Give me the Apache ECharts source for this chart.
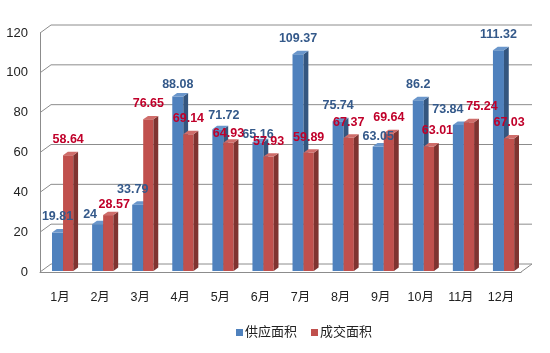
<!DOCTYPE html>
<html>
<head>
<meta charset="utf-8">
<script src="https://cdn.jsdelivr.net/npm/echarts@6/dist/echarts.min.js"></script>
<style>
  html, body { margin: 0; padding: 0; background: #fff; }
  #chart { width: 550px; height: 353px; }
</style>
</head>
<body>
<div id="chart"></div>
<script>
// values
const months = ['1月', '2月', '3月', '4月', '5月', '6月', '7月', '8月', '9月', '10月', '11月', '12月']
const supply = [19.81, 24, 33.79, 88.08, 71.72, 65.16, 109.37, 75.74, 63.05, 86.2, 73.84, 111.32]
const deal = [58.64, 28.57, 76.65, 69.14, 64.93, 57.93, 59.89, 67.37, 69.64, 63.01, 75.24, 67.03]
const yTicks = [0, 20, 40, 60, 80, 100, 120]

// a few labels were dragged by hand in the original, [dx, dy] by month index
const supplyLabelNudge = { 1: [-7.5, 5.5], 2: [-5, 0], 3: [0, 3.5], 4: [6, 1.5], 5: [0, 7.5], 8: [0, 6], 10: [-10.5, 0] }
const dealLabelNudge = { 1: [6, 4.5], 4: [0, 6.5], 9: [8.5, 0], 10: [13, 0] }

const FONT = '"Liberation Sans", "Noto Sans CJK SC", sans-serif'
const GRID_COLOR = '#8c8c8c'
// offset of the back wall (3d look)
const DX = 11
const DY = 8

const chart = echarts.init(document.getElementById('chart'))

function boxGeom(api, l, r) {
    const i = api.value(0), v = api.value(1)
    const base = api.coord([i, 0])
    const top = api.coord([i, v])
    const bw = api.size([1, 0])[0]
    const x0 = base[0] + bw * l
    const x1 = base[0] + bw * r
    const d = bw * 0.12
    const dd = d * 0.72
    return { x0, x1, d, dd, yt: top[1], yb: base[1] - 1 }
}

function barRenderer(l, r, front, side, topc) {
    return function (params, api) {
        const g = boxGeom(api, l, r)
        return {
            type: 'group',
            children: [
                { type: 'rect', shape: { x: g.x0, y: g.yt, width: g.x1 - g.x0, height: g.yb - g.yt }, style: { fill: front } },
                { type: 'polygon', shape: { points: [[g.x1, g.yt], [g.x1 + g.d, g.yt - g.dd], [g.x1 + g.d, g.yb - g.dd], [g.x1, g.yb]] }, style: { fill: side } },
                { type: 'polygon', shape: { points: [[g.x0, g.yt], [g.x1, g.yt], [g.x1 + g.d, g.yt - g.dd], [g.x0 + g.d, g.yt - g.dd]] }, style: { fill: topc } }
            ]
        }
    }
}

function labelRenderer(l, r, color, nudge) {
    return function (params, api) {
        const g = boxGeom(api, l, r)
        const n = nudge[params.dataIndex] || [0, 0]
        return {
            type: 'text',
            x: (g.x0 + g.x1) / 2 + n[0],
            y: g.yt - 15.5 + n[1],
            style: {
                text: String(api.value(1)),
                fill: color,
                font: 'bold 12.5px ' + FONT,
                align: 'center',
                verticalAlign: 'middle'
            }
        }
    }
}

function wallRenderer(params, api) {
    const v = api.value(0)
    const bw = api.size([1, 0])[0]
    const xl = api.coord([0, v])[0] - bw / 2
    const xr = api.coord([months.length - 1, v])[0] + bw / 2
    const y = api.coord([0, v])[1]
    const children = [{
        type: 'polyline',
        shape: { points: [[xl, y], [xl + DX, y - DY], [xr + DX, y - DY]] },
        style: { stroke: GRID_COLOR, lineWidth: 1, fill: null }
    }]
    if (v === 0) {
        children.push({
            type: 'line',
            shape: { x1: xr, y1: y, x2: xr + DX, y2: y - DY },
            style: { stroke: GRID_COLOR, lineWidth: 1 }
        })
    }
    return { type: 'group', children }
}

const BLUE_L = -0.2, BLUE_R = 0.075
const RED_L = 0.075, RED_R = 0.33

chart.setOption({
    animation: false,
    textStyle: { fontFamily: FONT },
    grid: { left: 40, right: 29, top: 33, bottom: 81 },
    legend: {
        data: ['供应面积', '成交面积'],
        left: 231,
        top: 321,
        icon: 'rect',
        itemWidth: 7,
        itemHeight: 7,
        itemGap: 14,
        textStyle: { fontSize: 13, color: '#222', padding: [0, 0, 0, -3] }
    },
    xAxis: {
        type: 'category',
        data: months,
        axisLine: { lineStyle: { color: GRID_COLOR } },
        axisTick: { length: 5, lineStyle: { color: GRID_COLOR } },
        axisLabel: { color: '#222', fontSize: 12.5, margin: 19 }
    },
    yAxis: {
        type: 'value',
        min: 0,
        max: 120,
        interval: 20,
        axisLine: { show: true, lineStyle: { color: GRID_COLOR } },
        axisTick: { show: false },
        splitLine: { show: false },
        axisLabel: { color: '#222', fontSize: 13, margin: 12 }
    },
    series: [
        {
            type: 'custom',
            name: 'wall',
            z: 1,
            silent: true,
            data: yTicks.map(v => [v]),
            encode: { y: 0 },
            renderItem: wallRenderer
        },
        {
            type: 'custom',
            name: '供应面积',
            z: 2,
            itemStyle: { color: '#4F81BD' },
            data: supply.map((v, i) => [i, v]),
            encode: { x: 0, y: 1 },
            renderItem: barRenderer(BLUE_L, BLUE_R, '#4F81BD', '#34567f', '#6a96cb')
        },
        {
            type: 'custom',
            name: '成交面积',
            z: 3,
            itemStyle: { color: '#C0504D' },
            data: deal.map((v, i) => [i, v]),
            encode: { x: 0, y: 1 },
            renderItem: barRenderer(RED_L, RED_R, '#C0504D', '#7f3330', '#cf6d6a')
        },
        {
            type: 'custom',
            name: 'supplyLabel',
            z: 4,
            data: supply.map((v, i) => [i, v]),
            encode: { x: 0, y: 1 },
            renderItem: labelRenderer(BLUE_L, BLUE_R, '#34598a', supplyLabelNudge)
        },
        {
            type: 'custom',
            name: 'dealLabel',
            z: 5,
            data: deal.map((v, i) => [i, v]),
            encode: { x: 0, y: 1 },
            renderItem: labelRenderer(RED_L, RED_R, '#c0002a', dealLabelNudge)
        }
    ]
})
</script>
</body>
</html>
